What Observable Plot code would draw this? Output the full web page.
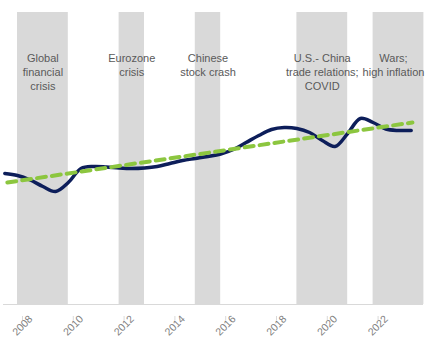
<!DOCTYPE html>
<html>
<head>
<meta charset="utf-8">
<script src="https://cdn.jsdelivr.net/npm/d3@7"></script>
<script src="https://cdn.jsdelivr.net/npm/@observablehq/plot@0.6"></script>
<style>
  html, body { margin: 0; padding: 0; background: #fff; }
  #chart svg { display: block; }
</style>
</head>
<body>
<div id="chart"></div>
<script>
// Series (semiannual, index units)
const years = [2007.5, 2008.0, 2008.5, 2009.0, 2009.5, 2010.0, 2010.5, 2011.0, 2011.5, 2012.0, 2012.5,
  2013.0, 2013.5, 2014.0, 2014.5, 2015.0, 2015.5, 2016.0, 2016.5, 2017.0, 2017.5, 2018.0, 2018.5,
  2019.0, 2019.5, 2020.0, 2020.5, 2021.0, 2021.5, 2022.0, 2022.5, 2023.0, 2023.5];
const values = [13.1, 12.9, 12.45, 11.8, 11.3, 12.2, 13.6, 13.8, 13.75, 13.65, 13.6,
  13.65, 13.8, 14.1, 14.4, 14.6, 14.8, 15.05, 15.5, 16.2, 16.9, 17.5, 17.7,
  17.6, 17.2, 16.4, 15.8, 17.1, 18.6, 18.2, 17.55, 17.4, 17.4];

// Linear trend
const trendYears = [2007.6, 2023.55];
const trendValues = [12.2, 18.2];

// Crisis periods
const crisisStart = [2008, 2012, 2015, 2019, 2022];
const crisisEnd = [2010, 2013, 2016, 2021, 2024];
const crisisLabels = ["Global\nfinancial\ncrisis", "Eurozone\ncrisis", "Chinese\nstock crash",
  "U.S.- China\ntrade relations;\nCOVID", "Wars;\nhigh inflation"];

// Tick labels
const tickYears = [2008, 2010, 2012, 2014, 2016, 2018, 2020, 2022];

const series = years.map((y, i) => ({year: y, value: values[i]}));
const trend = trendYears.map((y, i) => ({year: y, value: trendValues[i]}));
const crises = crisisStart.map((s, i) => ({start: s, end: crisisEnd[i], mid: (s + crisisEnd[i]) / 2, label: crisisLabels[i]}));

const full = Plot.plot({
  width: 427,
  height: 338,
  marginTop: 12,
  marginBottom: 34,
  marginLeft: 0,
  marginRight: 0,
  style: {fontFamily: "'Liberation Sans', Arial, sans-serif", fontSize: "11px", background: "#fff"},
  x: {domain: [2007.331, 2024.142]},
  y: {domain: [0, 29.2], axis: null},
  marks: [
    Plot.rect(crises, {x1: "start", x2: "end", fill: "#d9d9d9"}),
    Plot.text(crises.slice(0, 4), {x: "mid", text: "label", frameAnchor: "top", dy: 39, lineAnchor: "top",
      lineHeight: 1.3, fontSize: 11, fill: "#595959"}),
    Plot.text(crises.slice(4), {x: "mid", text: "label", frameAnchor: "top", dy: 39, lineAnchor: "top",
      lineHeight: 1.3, fontSize: 11, fill: "#595959", dx: -5}),
    Plot.ruleY([0], {stroke: "#d9d9d9", insetLeft: 3, insetRight: 4}),
    Plot.axisX({ticks: tickYears, tickFormat: d => String(d), tickSize: 4, tickRotate: -45,
      textAnchor: "middle", lineAnchor: "middle", tickPadding: 5,
      stroke: "#d9d9d9", fill: "#808080", dx: 5, dy: 12, label: null, fontSize: 10.5}),
    Plot.line(series, {x: "year", y: "value", curve: "catmull-rom", stroke: "#0d1e5a", strokeWidth: 3.5}),
    Plot.line(trend, {x: "year", y: "value", stroke: "#8cc63f", strokeWidth: 4, strokeDasharray: "9,6"})
  ]
});
document.getElementById("chart").appendChild(full);
</script>
</body>
</html>
